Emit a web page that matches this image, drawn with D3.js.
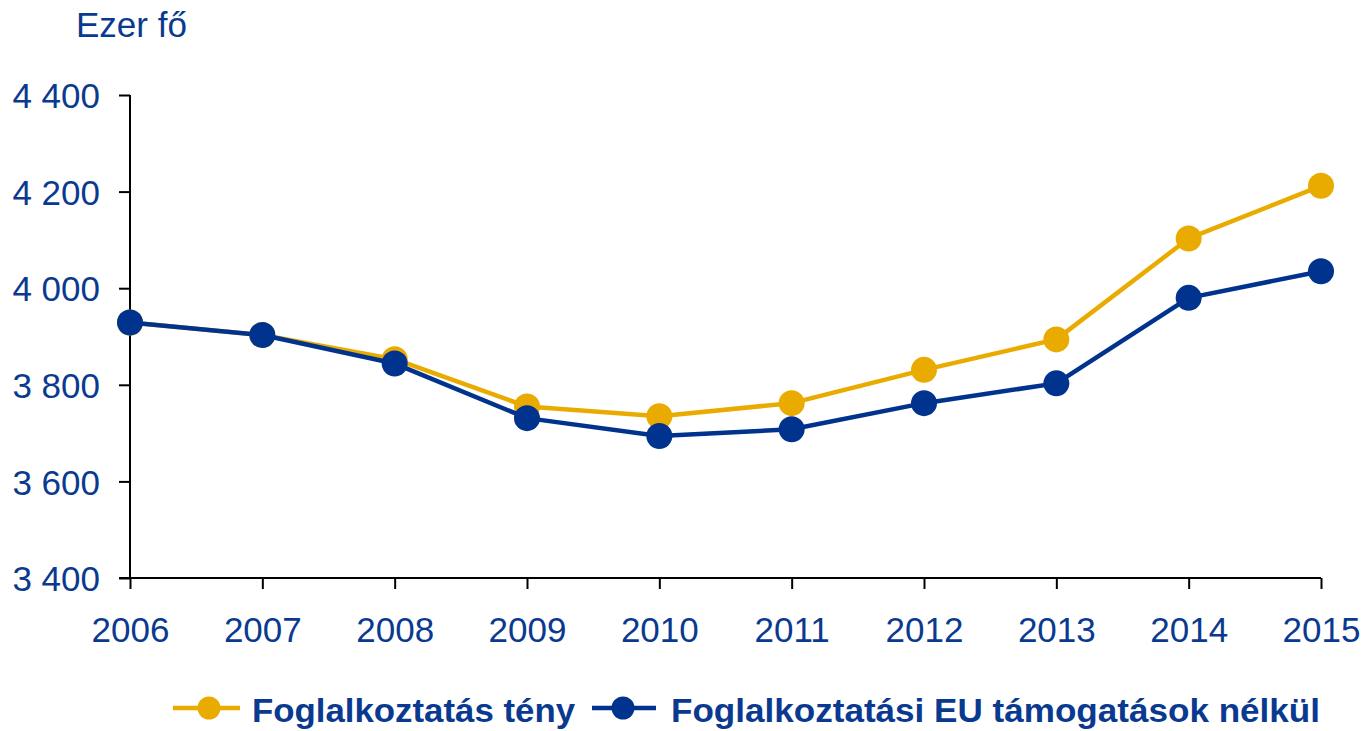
<!DOCTYPE html>
<html>
<head>
<meta charset="utf-8">
<script src="https://cdn.jsdelivr.net/npm/d3@7"></script>
<style>
  html, body { margin: 0; padding: 0; background: #fff; }
  svg { display: block; }
  text { font-family: "Liberation Sans", Arial, sans-serif; }
</style>
</head>
<body>
<svg id="chart" width="1366" height="731"></svg>
<script>
const years = [2006, 2007, 2008, 2009, 2010, 2011, 2012, 2013, 2014, 2015];
const actual = [3929, 3903, 3853, 3755, 3735, 3762, 3831, 3894, 4103, 4212];
const withoutEU = [3929, 3903, 3844, 3731, 3694, 3708, 3762, 3803, 3980, 4035];
const yTicks = [3400, 3600, 3800, 4000, 4200, 4400];
const seriesNames = ["Foglalkoztatás tény", "Foglalkoztatási EU támogatások nélkül"];
const unitLabel = "Ezer fő";

const YELLOW = "#EAAB00";
const BLUE = "#00338D";
const TEXT = "#0A3A8F";

const svg = d3.select("#chart");
const x = d3.scalePoint().domain(years).range([130, 1321]);
const y = d3.scaleLinear().domain([3400, 4400]).range([578, 95]);

const fmt = v => d3.format(",")(v).replace(/,/g, " ");

// Y axis
const yAxis = svg.append("g").attr("transform", "translate(130,0)")
  .call(d3.axisLeft(y).tickValues(yTicks).tickSize(11).tickPadding(19).tickFormat(fmt));
yAxis.select(".domain").attr("stroke", "#000").attr("stroke-width", 2).attr("d", "M0,95V578");
yAxis.selectAll(".tick line").attr("stroke", "#000").attr("stroke-width", 2);
yAxis.selectAll(".tick text").attr("fill", TEXT).style("font-size", "35px")
  .attr("font-family", "Liberation Sans, Arial, sans-serif").attr("dy", "0.36em");

// X axis
const xAxis = svg.append("g").attr("transform", "translate(0,578)")
  .call(d3.axisBottom(x).tickSize(11).tickPadding(28).tickFormat(d3.format("d")));
xAxis.select(".domain").attr("stroke", "#000").attr("stroke-width", 2).attr("d", "M119,0H1321");
xAxis.selectAll(".tick line").attr("stroke", "#000").attr("stroke-width", 2);
xAxis.selectAll(".tick text").attr("fill", TEXT).style("font-size", "35px")
  .attr("font-family", "Liberation Sans, Arial, sans-serif").attr("dy", "0.71em");

// Unit label
svg.append("text").attr("x", 76).attr("y", 37).attr("fill", TEXT)
  .style("font-size", "35px").text(unitLabel);

// Series
const series = [
  { name: seriesNames[0], values: actual, color: YELLOW },
  { name: seriesNames[1], values: withoutEU, color: BLUE }
];
const line = d3.line().x((d, i) => x(years[i])).y(d => y(d));
series.forEach(s => {
  const g = svg.append("g");
  g.append("path").datum(s.values).attr("d", line)
    .attr("fill", "none").attr("stroke", s.color).attr("stroke-width", 4.5)
    .attr("stroke-linejoin", "round");
  g.selectAll("circle").data(s.values).join("circle")
    .attr("cx", (d, i) => x(years[i])).attr("cy", d => y(d))
    .attr("r", 13).attr("fill", s.color);
});

// Legend
const legendItems = [
  { name: seriesNames[0], color: YELLOW, x0: 173, x1: 240, cx: 209, tx: 252, tw: 323 },
  { name: seriesNames[1], color: BLUE, x0: 592, x1: 656, cx: 623, tx: 671, tw: 649 }
];
const lg = svg.append("g");
legendItems.forEach(it => {
  lg.append("line").attr("x1", it.x0).attr("x2", it.x1).attr("y1", 708).attr("y2", 708)
    .attr("stroke", it.color).attr("stroke-width", 4.5);
  lg.append("circle").attr("cx", it.cx).attr("cy", 708).attr("r", 11.5).attr("fill", it.color);
  lg.append("text").attr("x", it.tx).attr("y", 722).attr("fill", TEXT)
    .style("font-size", "33px").style("font-weight", "bold")
    .attr("textLength", it.tw).attr("lengthAdjust", "spacingAndGlyphs")
    .text(it.name);
});
</script>
</body>
</html>
